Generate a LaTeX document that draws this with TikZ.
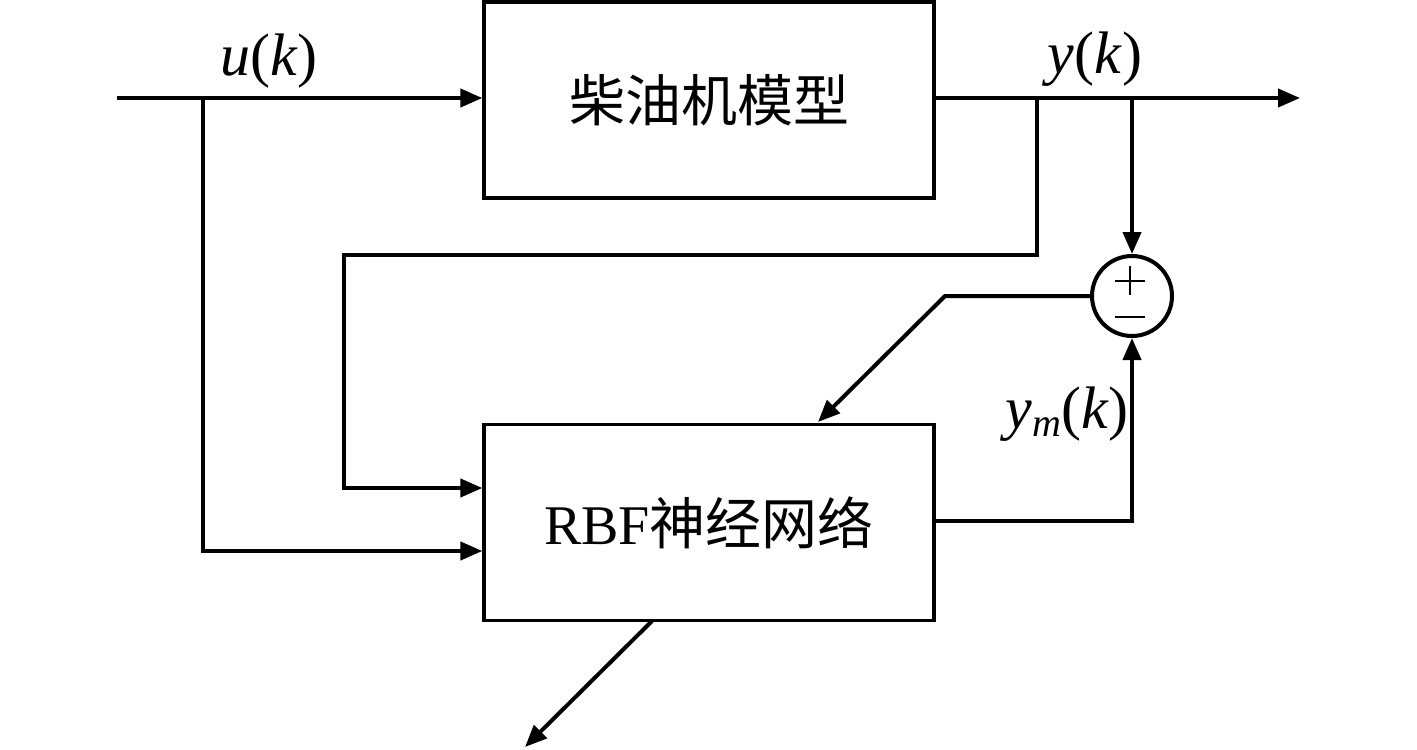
\documentclass[tikz,border=0pt]{standalone}
\usepackage{fontspec}
\setmainfont{Liberation Serif}
\newfontfamily\cjk{Noto Sans CJK SC}
\usetikzlibrary{arrows.meta}
\begin{document}
\begin{tikzpicture}[x=0.5pt,y=-0.5pt,
  line width=2pt,
  arr/.style={-{Triangle[length=11pt,width=9pt]}},
  blk/.style={draw,line width=1.6pt,minimum width=225pt,minimum height=98pt,inner sep=0pt},
  lbl/.style={font=\fontsize{30}{34}\selectfont,inner sep=0pt}]
\useasboundingbox (0,0) rectangle (1417,749);
\node[blk] (plant) at (709,100) {\fontsize{28}{30}\selectfont\cjk 柴油机模型};
\node[blk] (rbf) at (709,522.5) {\fontsize{28}{30}\selectfont RBF{\cjk 神经网络}};
\node[draw,circle,minimum size=40pt,inner sep=0pt,line width=2pt] (sum) at (1132,296) {};
\draw[line width=1.4pt] (1115,281) -- (1145,281) (1130,266) -- (1130,295);
\draw[line width=1.4pt] (1115,317) -- (1145,317);
\coordinate (in) at (117,98);
\coordinate (out) at (1300,98);
\coordinate (bu) at (203,98);
\coordinate (by) at (1037,98);
\coordinate (be) at (1132,98);
\coordinate (bend) at (945,296);
\coordinate (end1) at (818,422);
\coordinate (bot) at (652,621);
\coordinate (end2) at (525,747);
\draw[arr] (in) -- (plant.west |- in);
\draw[arr] (plant.east |- out) -- (out);
\draw[arr] (bu) |- (rbf.west |- 0,551);
\draw[arr] (by) |- (344,255) |- (rbf.west |- 0,488);
\draw[arr] (be) -- (sum.north);
\draw[arr] (sum.west) -- (bend) -- (end1);
\draw[arr] (rbf.east |- 0,521) -| (sum.south);
\draw[arr] (bot) -- (end2);
\node[lbl] (lu) at (269,61) {\textit{u}(\textit{k})};
\node[lbl] (ly) at (1095,59) {\textit{y}(\textit{k})};
\node[lbl] (lym) at (1067,414) {\textit{y}{\fontsize{20}{22}\selectfont\raisebox{-4pt}{\textit{m}}}(\textit{k})};
\end{tikzpicture}
\end{document}
